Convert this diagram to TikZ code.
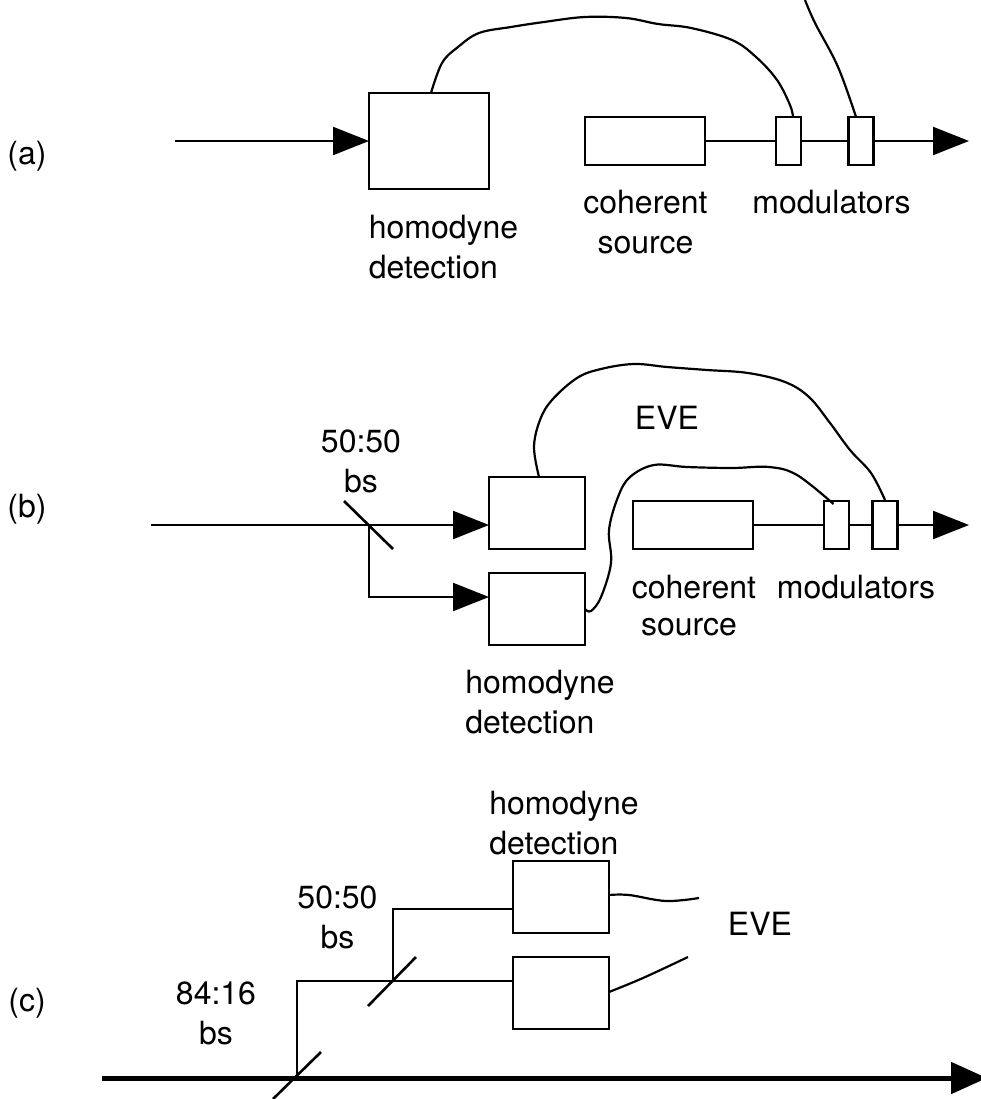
\documentclass[tikz,border=0pt]{standalone}
\usepackage{fontspec}
\setmainfont{TeX Gyre Heros}
\usetikzlibrary{arrows.meta,calc}
\tikzset{
  box/.style={draw,line width=2.2pt,fill=white,inner sep=0pt,outer sep=0pt,minimum width=#1},
  lbl/.style={inner sep=0pt,outer sep=0pt,align=center,font=\fontsize{32}{40}\selectfont},
  lbll/.style={lbl,align=left},
  wire/.style={line width=2.2pt},
  ray/.style={line width=2.2pt,-{Triangle[length=36pt,width=28pt]}},
  mirror/.style={line width=2.6pt},
  thickray/.style={line width=5pt,-{Triangle[length=36pt,width=31pt]}},
  curve/.style={line width=2.2pt,line join=round}
}
\begin{document}
\begin{tikzpicture}[x=1pt,y=-1pt]
\useasboundingbox (0,0) rectangle (980,1099);
% panel a
\node[lbl] (la) at (27,156) {(a)};
\node[box=120pt,minimum height=96pt] (adet) at (429,141) {};
\node[box=120pt,minimum height=48pt] (asrc) at (645,141) {};
\node[box=25pt,minimum height=48pt] (am1) at (788.5,141) {};
\node[box=25pt,minimum height=48pt] (am2) at (861,141) {};
\coordinate (ain) at (175,141);
\coordinate (aout) at (969,141);
\coordinate (aw) at (805,0);
\draw[ray] (ain) -- (adet.west);
\draw[wire] (asrc.east) -- (am1.west);
\draw[wire] (am1.east) -- (am2.west);
\draw[ray] (am2.east) -- (aout);
\draw[curve] plot[smooth,tension=0.6] coordinates {($(adet.north)+(2,0)$) (442,63) (458,47) (479,33) (511,27) (544,22) (585,17) (626,18) (658,24) (691,28) (732,40) (756,57) (777,80) (790,105) ($(am1.north)+(4.5,0)$)};
\draw[curve] plot[smooth,tension=0.6] coordinates {(aw) (815,23) (838,67) ($(am2.north)+(-5,0)$)};
\node[lbll] (ah) at (443.5,247.5) {homodyne\\detection};
\node[lbl] (as) at (645.5,222.5) {coherent\\source};
\node[lbl] (am) at (831.5,202.5) {modulators};
% panel b
\node[lbl] (lb) at (27,509) {(b)};
\node[box=96pt,minimum height=72pt] (bd1) at (537,513) {};
\node[box=96pt,minimum height=72pt] (bd2) at (537,609) {};
\node[box=120pt,minimum height=48pt] (bsrc) at (693,525) {};
\node[box=25pt,minimum height=48pt] (bm1) at (836.5,525) {};
\node[box=25pt,minimum height=48pt] (bm2) at (885,525) {};
\coordinate (bin) at (151,525);
\coordinate (bout) at (969,525);
\coordinate (bj) at (369,525);
\coordinate (bma) at (344,501);
\coordinate (bmb) at (393,549);
\draw[ray] (bin) -- (bin -| bd1.west);
\draw[ray] (bj) |- (bd2.west |- 0,597);
\draw[mirror] (bma) -- (bmb);
\draw[wire] (bsrc.east) -- (bm1.west);
\draw[wire] (bm1.east) -- (bm2.west);
\draw[ray] (bm2.east) -- (bout);
\draw[curve] plot[smooth,tension=0.6] coordinates {($(bd1.north)+(2,0)$) (534,447) (540,420) (552,400) (577,378) (601,369) (634,364) (667,367) (707,370) (748,373) (785,382) (809,397) (830,423) (850,450) (871,473) ($(bm2.north)+(0,-1)$)};
\draw[curve] plot[smooth,tension=0.6] coordinates {(bd2.east) (591,611) (601,597) (611,563) (609,530) (618,497) (630,477) (654,465) (687,467) (732,468) (769,467) (797,475) ($(bm1.north)+(-3,3)$)};
\node[lbl] (bbs) at (361,461) {50:50\\bs};
\node[lbl] (be) at (667,418) {EVE};
\node[lbl] (bc) at (694,587) {coherent};
\node[lbl] (bs) at (689,627) {source};
\node[lbl] (bm) at (856,587) {modulators};
\node[lbll] (bh) at (540,702.5) {homodyne\\detection};
% panel c
\node[lbl] (lc) at (27,1003) {(c)};
\node[box=96pt,minimum height=72pt] (cd1) at (561,897) {};
\node[box=96pt,minimum height=72pt] (cd2) at (561,993) {};
\coordinate (cin) at (102,1078);
\coordinate (cout) at (987,1078);
\coordinate (cj1) at (393,981);
\coordinate (cj2) at (297,1078);
\coordinate (cma) at (416,957);
\coordinate (cmb) at (368,1006);
\coordinate (cmc) at (321,1052);
\coordinate (cmd) at (273,1099);
\draw[wire] (cj1) |- (cd1.west |- 0,909);
\draw[wire] (cj2) |- (cd2.west |- 0,981);
\draw[mirror] (cma) -- (cmb);
\draw[mirror] (cmc) -- (cmd);
\draw[thickray] (cin) -- (cout);
\draw[curve] plot[smooth,tension=0.6] coordinates {($(cd1.east)+(0,-2)$) (629,895) (666,901) (699,898)};
\draw[curve] plot[smooth,tension=0.6] coordinates {($(cd2.east)+(0,-1)$) (643,978) (688,957)};
\node[lbll] (ch) at (564,823) {homodyne\\detection};
\node[lbl] (cb1) at (337.5,917) {50:50\\bs};
\node[lbl] (cb2) at (216,1013) {84:16\\bs};
\node[lbl] (ce) at (760,924) {EVE};
\end{tikzpicture}
\end{document}
